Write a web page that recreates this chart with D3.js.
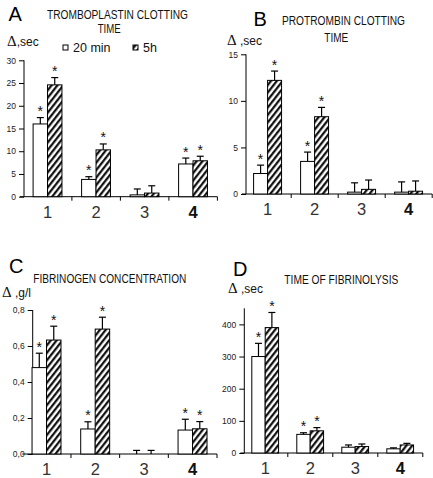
<!DOCTYPE html>
<html><head><meta charset="utf-8">
<script src="https://cdn.jsdelivr.net/npm/d3@7"></script>
<style>html,body{margin:0;padding:0;background:#fff;}svg{display:block;}</style>
</head><body>
<svg id="c" width="433" height="478"></svg>
<script>
// ---- data ----
const categories = ["1", "2", "3", "4"];
const seriesNames = ["20 min", "5h"];

// A: Tromboplastin clotting time (Δ, sec)
const aMin20 = [16.0, 3.8, 0.4, 7.2];
const aMin20Err = [1.4, 0.6, 1.3, 1.3];
const aH5 = [24.6, 10.3, 0.8, 7.9];
const aH5Err = [1.6, 1.3, 1.6, 1.0];
const aStars = [1, 1, 0, 1];
const aTicks = [0, 5, 10, 15, 20, 25, 30];

// B: Protrombin clotting time (Δ, sec)
const bMin20 = [2.2, 3.5, 0.2, 0.2];
const bMin20Err = [0.9, 1.0, 1.0, 1.1];
const bH5 = [12.2, 8.3, 0.5, 0.3];
const bH5Err = [1.0, 1.0, 1.0, 1.1];
const bStars = [1, 1, 0, 0];
const bTicks = [0, 5, 10, 15];

// C: Fibrinogen concentration (Δ, g/l)
const cMin20 = [0.48, 0.139, 0, 0.133];
const cMin20Err = [0.08, 0.04, 0.02, 0.06];
const cH5 = [0.633, 0.694, 0, 0.14];
const cH5Err = [0.077, 0.066, 0.02, 0.04];
const cStars = [1, 1, 0, 1];
const cTicks = [0, 0.2, 0.4, 0.6, 0.8];

// D: Time of fibrinolysis (Δ, sec)
const dMin20 = [300, 58, 18, 13];
const dMin20Err = [41, 5, 7, 3];
const dH5 = [390, 69, 20, 25];
const dH5Err = [47, 10, 8, 5];
const dStars = [1, 1, 0, 0];
const dTicks = [0, 100, 200, 300, 400];

// ---- drawing ----
const svg = d3.select("#c");
const defs = svg.append("defs");
const pat = defs.append("pattern").attr("id", "hatch")
  .attr("patternUnits", "userSpaceOnUse").attr("width", 4.6).attr("height", 4.6)
  .attr("patternTransform", "rotate(38)");
pat.append("rect").attr("width", 4.6).attr("height", 4.6).attr("fill", "#fff");
pat.append("line").attr("x1", 1.2).attr("y1", 0).attr("x2", 1.2).attr("y2", 4.6)
  .attr("stroke", "#000").attr("stroke-width", 2.1);

const SANS = "'Liberation Sans', Arial, sans-serif";
const NARROW = "'Liberation Sans Narrow', 'Liberation Sans', Arial, sans-serif";

function panel(cfg) {
  const g = svg.append("g");
  const x = d3.scaleBand().domain(categories).range([cfg.x0, cfg.x1]);
  const bw = x.bandwidth();
  const xs = d3.scaleBand().domain(seriesNames).range([bw * 0.2, bw * 0.795]);
  const y = d3.scaleLinear().domain([0, cfg.yMax]).range([cfg.yBottom, cfg.yTop]);

  // x axis line + boundary ticks
  const xa = g.append("g").attr("transform", `translate(0,${cfg.yBottom})`)
    .call(d3.axisBottom(x).tickSize(0).tickFormat(""));
  xa.select(".domain").attr("d", `M${Math.min(cfg.x0, cfg.yAxisX - 4)},0H${cfg.x1}`).attr("stroke", "#000");
  categories.forEach(c => {
    g.append("line").attr("x1", x(c) + bw).attr("x2", x(c) + bw)
      .attr("y1", cfg.yBottom).attr("y2", cfg.yBottom + 4).attr("stroke", "#000");
  });
  // category labels
  g.selectAll("text.cat").data(categories).join("text").attr("class", "cat")
    .attr("x", d => x(d) + bw / 2).attr("y", cfg.yBottom + 21)
    .attr("text-anchor", "middle").attr("font-family", SANS).attr("font-size", 16.5)
    .attr("font-weight", d => d === "4" ? "bold" : "normal")
    .attr("fill", d => d === "4" ? "#111" : "#333").text(d => d);

  // y axis
  const ya = g.append("g").attr("transform", `translate(${cfg.yAxisX},0)`)
    .call(d3.axisLeft(y).tickValues(cfg.ticks).tickSize(5).tickPadding(3).tickFormat(cfg.fmt));
  ya.select(".domain").attr("d", `M0,${cfg.yTop}V${cfg.yBottom}`).attr("stroke", "#000");
  ya.selectAll("text").attr("font-family", SANS).attr("font-size", 8.5).attr("fill", "#222");
  ya.selectAll("line").attr("stroke", "#000");

  const series = [
    { name: seriesNames[0], vals: cfg.m20, err: cfg.m20e, fill: "#fff" },
    { name: seriesNames[1], vals: cfg.h5, err: cfg.h5e, fill: "url(#hatch)" }
  ];
  series.forEach(s => {
    categories.forEach((c, i) => {
      const bx = x(c) + xs(s.name), w = xs.bandwidth();
      const top = y(s.vals[i]);
      if (s.vals[i] > 0) {
        g.append("rect").attr("x", bx).attr("y", top).attr("width", w)
          .attr("height", cfg.yBottom - top).attr("fill", s.fill)
          .attr("stroke", "#000").attr("stroke-width", 1);
      }
      const et = y(s.vals[i] + s.err[i]);
      const cx = bx + w / 2;
      g.append("line").attr("x1", cx).attr("x2", cx).attr("y1", top).attr("y2", et)
        .attr("stroke", "#000").attr("stroke-width", 1.2);
      g.append("line").attr("x1", cx - 3.5).attr("x2", cx + 3.5).attr("y1", et).attr("y2", et)
        .attr("stroke", "#000").attr("stroke-width", 1.2);
      if (cfg.stars[i]) {
        g.append("text").attr("x", cx).attr("y", et - 1.5).attr("text-anchor", "middle")
          .attr("font-family", SANS).attr("font-size", 14).attr("fill", "#111").text("*");
      }
    });
  });

  // panel letter
  g.append("text").attr("x", cfg.letter[0]).attr("y", cfg.letter[1])
    .attr("font-family", SANS).attr("font-size", 20).text(cfg.letterText);
  // titles
  cfg.titles.forEach(t => {
    g.append("text").attr("x", t.x).attr("y", t.y).attr("font-family", NARROW)
      .attr("font-size", 12).attr("textLength", t.w).attr("lengthAdjust", "spacingAndGlyphs")
      .attr("fill", "#111").text(t.text);
  });
  // unit label
  const u = g.append("text").attr("x", cfg.unit[0]).attr("y", cfg.unit[1]).attr("fill", "#111");
  u.append("tspan").attr("font-family", "'Liberation Serif', 'DejaVu Serif', serif").attr("font-size", 15).text("\u0394");
  u.append("tspan").attr("font-family", SANS).attr("font-size", 12).text(cfg.unitText);
  return g;
}

panel({ x0: 23.4, x1: 217.4, yAxisX: 24, yBottom: 196.7, yTop: 60.3, yMax: 30, ticks: aTicks,
  fmt: d3.format("d"), m20: aMin20, m20e: aMin20Err, h5: aH5, h5e: aH5Err, stars: aStars,
  letter: [8.5, 21], letterText: "A",
  titles: [{ text: "TROMBOPLASTIN CLOTTING", x: 47, y: 18.5, w: 141 }, { text: "TIME", x: 97.7, y: 32.5, w: 23 }],
  unit: [7, 46], unitText: ",sec" });

panel({ x0: 244.2, x1: 432.2, yAxisX: 246, yBottom: 194, yTop: 54.3, yMax: 15, ticks: bTicks,
  fmt: d3.format("d"), m20: bMin20, m20e: bMin20Err, h5: bH5, h5e: bH5Err, stars: bStars,
  letter: [253.5, 26], letterText: "B",
  titles: [{ text: "PROTROMBIN CLOTTING", x: 282, y: 25, w: 123 }, { text: "TIME", x: 324.3, y: 42, w: 24 }],
  unit: [227, 45], unitText: " ,sec" });

panel({ x0: 22.3, x1: 217, yAxisX: 32.7, yBottom: 454, yTop: 310, yMax: 0.8, ticks: cTicks,
  fmt: d => d3.format(".1f")(d).replace(".", ","), m20: cMin20, m20e: cMin20Err, h5: cH5, h5e: cH5Err, stars: cStars,
  letter: [9, 272.5], letterText: "C",
  titles: [{ text: "FIBRINOGEN CONCENTRATION", x: 33.3, y: 282.5, w: 153 }],
  unit: [2, 297], unitText: " ,g/l" });

panel({ x0: 242.8, x1: 422.8, yAxisX: 244.3, yBottom: 453, yTop: 308.3, yMax: 450, ticks: dTicks,
  fmt: d3.format("d"), m20: dMin20, m20e: dMin20Err, h5: dH5, h5e: dH5Err, stars: dStars,
  letter: [233, 276], letterText: "D",
  titles: [{ text: "TIME OF FIBRINOLYSIS", x: 284.3, y: 284, w: 114 }],
  unit: [228, 293], unitText: " ,sec" });

// legend (panel A)
const lg = svg.append("g");
const lx = d3.scaleOrdinal().domain(seriesNames).range([63, 133]);
seriesNames.forEach((s, i) => {
  lg.append("rect").attr("x", lx(s)).attr("y", 45).attr("width", 5).attr("height", 5)
    .attr("fill", i === 0 ? "#fff" : "url(#hatch)").attr("stroke", "#000").attr("stroke-width", 1);
  lg.append("text").attr("x", lx(s) + 10).attr("y", 52).attr("font-family", SANS)
    .attr("font-size", 12.5).attr("fill", "#111").text(s);
});
</script>
</body></html>
